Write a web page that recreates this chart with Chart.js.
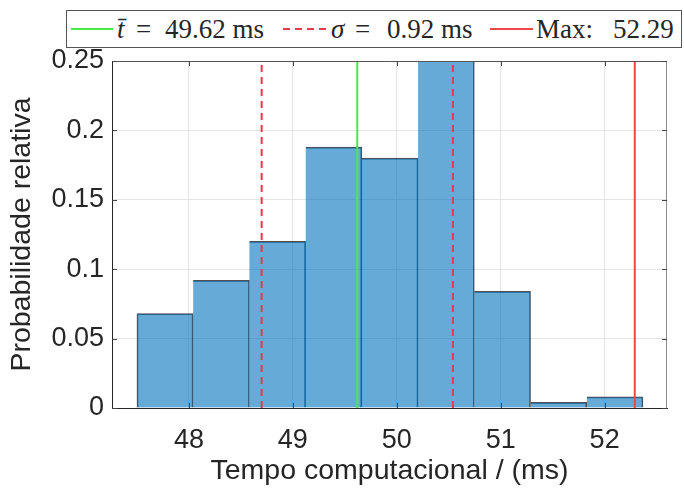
<!DOCTYPE html>
<html>
<head>
<meta charset="utf-8">
<script src="https://cdn.jsdelivr.net/npm/chart.js@4.4.1/dist/chart.umd.min.js"></script>
<style>
  html, body { margin: 0; padding: 0; background: #fff; }
  #wrap { position: relative; width: 684px; height: 497px; }
  #legenda {
    position: absolute; left: 66px; top: 10px; width: 614px; height: 36px;
    border: 1px solid #555; background: #fff;
    font-family: "Liberation Serif", "Times New Roman", serif; font-size: 27px; color: #262626;
  }
  #legenda span { position: absolute; top: 50%; transform: translateY(-48%); white-space: pre; line-height: 1; }
  #legenda svg { position: absolute; top: 16px; height: 4px; }
</style>
</head>
<body>
<div id="wrap">
  <canvas id="grafico" width="684" height="497"></canvas>
  <div id="legenda">
    <svg style="left:4px" width="42"><line x1="0" y1="2" x2="42" y2="2" stroke="rgb(70,235,70)" stroke-width="2"/></svg>
    <span style="left:50px"><i>t̄</i></span>
    <span style="left:69px">=</span>
    <span style="left:98px">49.62 ms</span>
    <svg style="left:216px" width="44"><line x1="0" y1="2" x2="44" y2="2" stroke="rgb(228,60,78)" stroke-width="2" stroke-dasharray="7 5"/></svg>
    <span style="left:264px"><i>σ</i></span>
    <span style="left:288px">=</span>
    <span style="left:320px">0.92 ms</span>
    <svg style="left:423px" width="43"><line x1="0" y1="2" x2="43" y2="2" stroke="rgb(240,72,72)" stroke-width="2"/></svg>
    <span style="left:469px">Max:</span>
    <span style="left:546px">52.29</span>
  </div>
</div>
<script>
// histograma do tempo computacional
const binEdges = [47.500, 48.041, 48.582, 49.123, 49.664, 50.205, 50.746, 51.287, 51.828, 52.369];
const relFreq = [0.068, 0.092, 0.120, 0.188, 0.180, 0.256, 0.084, 0.004, 0.008];
const xTicks = [48, 49, 50, 51, 52];
const yTicks = [0, 0.05, 0.1, 0.15, 0.2, 0.25];
const tMedio = 49.62;
const sigma = 0.92;
const tMax = 52.29;

const fonte = "'Liberation Sans', Arial, Helvetica, sans-serif";
const corTexto = '#262626';

const barras = relFreq.map((v, i) => ({ x: (binEdges[i] + binEdges[i + 1]) / 2, y: v }));

function linhaVertical(x) {
  return [{ x: x, y: yTicks[0] }, { x: x, y: yTicks[yTicks.length - 1] }];
}

// caixa do eixo (topo e direita) e ticks para dentro, como no MATLAB
const caixa = {
  id: 'caixa',
  afterDraw(chart) {
    const { ctx, chartArea: a, scales } = chart;
    ctx.save();
    ctx.lineWidth = 1;
    ctx.strokeStyle = '#555';
    ctx.beginPath();
    ctx.moveTo(a.left, a.top + 0.5);
    ctx.lineTo(a.right, a.top + 0.5);
    ctx.stroke();
    ctx.strokeStyle = '#8a8a8a';
    ctx.beginPath();
    ctx.moveTo(a.right - 0.5, a.top);
    ctx.lineTo(a.right - 0.5, a.bottom);
    ctx.stroke();

    ctx.strokeStyle = '#444';
    ctx.beginPath();
    xTicks.forEach(v => {
      const px = Math.round(scales.x.getPixelForValue(v)) + 0.5;
      ctx.moveTo(px, a.bottom);
      ctx.lineTo(px, a.bottom - 5);
      ctx.moveTo(px, a.top);
      ctx.lineTo(px, a.top + 5);
    });
    yTicks.forEach(v => {
      const py = Math.round(scales.y.getPixelForValue(v)) + 0.5;
      ctx.moveTo(a.left, py);
      ctx.lineTo(a.left + 5, py);
      ctx.moveTo(a.right, py);
      ctx.lineTo(a.right - 5, py);
    });
    ctx.stroke();
    ctx.restore();
  }
};

const ctx = document.getElementById('grafico').getContext('2d');
const chart = new Chart(ctx, {
  type: 'bar',
  data: {
    datasets: [
      {
        type: 'line',
        data: linhaVertical(tMedio),
        borderColor: 'rgb(70,235,70)',
        borderWidth: 2,
        pointRadius: 0,
        order: 0,
      },
      {
        type: 'line',
        data: linhaVertical(tMedio - sigma),
        borderColor: 'rgb(228,60,78)',
        borderWidth: 2,
        borderDash: [7, 5],
        pointRadius: 0,
        order: 0,
      },
      {
        type: 'line',
        data: linhaVertical(tMedio + sigma),
        borderColor: 'rgb(228,60,78)',
        borderWidth: 2,
        borderDash: [7, 5],
        pointRadius: 0,
        order: 0,
      },
      {
        type: 'line',
        data: linhaVertical(tMax),
        borderColor: 'rgb(240,72,72)',
        borderWidth: 2,
        pointRadius: 0,
        order: 0,
      },
      {
        type: 'bar',
        data: barras,
        backgroundColor: 'rgba(0,114,189,0.6)',
        borderColor: 'rgba(20,20,30,0.75)',
        borderWidth: function (c) {
          return { top: 1, right: 1, bottom: 0, left: c.dataIndex === 0 ? 1 : 0 };
        },
        barPercentage: 1,
        categoryPercentage: 1,
        clip: 0,
        order: 1,
      },
    ],
  },
  options: {
    responsive: false,
    animation: false,
    devicePixelRatio: 1,
    layout: { padding: { top: 61, right: 17, bottom: 0, left: 0 } },
    plugins: {
      legend: { display: false },
      tooltip: { enabled: false },
    },
    scales: {
      x: {
        type: 'linear',
        min: 47.26,
        max: 52.6,
        offset: false,
        afterBuildTicks: s => { s.ticks = xTicks.map(v => ({ value: v })); },
        afterFit: s => { s.height = 89; },
        grid: { offset: false, color: '#e4e4e4', drawTicks: false },
        border: { color: corTexto },
        ticks: {
          padding: 16,
          color: corTexto,
          font: { family: fonte, size: 27 },
          callback: v => String(v),
        },
        title: {
          display: true,
          text: 'Tempo computacional / (ms)',
          color: corTexto,
          font: { family: fonte, size: 28.5 },
          padding: { top: 0, bottom: 9 },
        },
      },
      y: {
        type: 'linear',
        min: 0,
        max: 0.25,
        afterBuildTicks: s => { s.ticks = yTicks.map(v => ({ value: v })); },
        afterFit: s => { s.width = 112; },
        grid: { color: '#e4e4e4', drawTicks: false },
        border: { color: corTexto },
        ticks: {
          padding: 8,
          color: corTexto,
          font: { family: fonte, size: 27 },
          callback: v => String(v),
        },
        title: {
          display: true,
          text: 'Probabilidade relativa',
          color: corTexto,
          font: { family: fonte, size: 28.5 },
          padding: { top: 5, bottom: 0 },
        },
      },
    },
  },
  plugins: [caixa],
});
</script>
</body>
</html>
